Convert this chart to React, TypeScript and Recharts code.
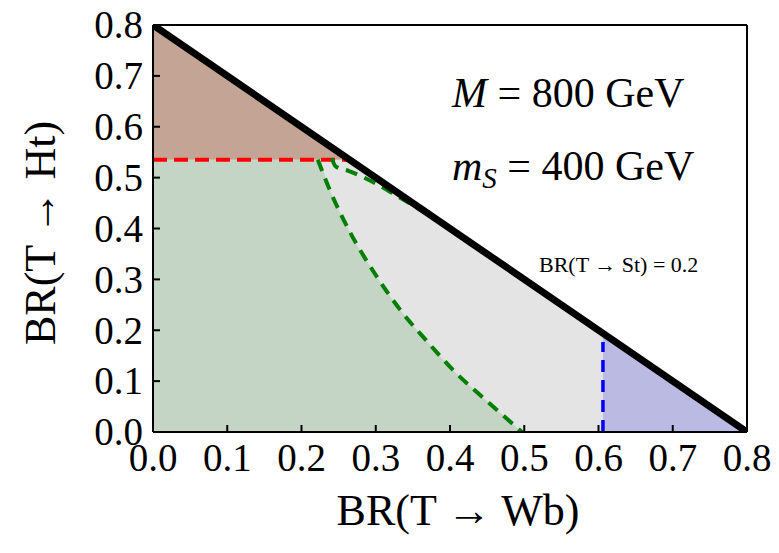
import { ComposedChart, Area, Line, XAxis, YAxis, ReferenceLine } from 'recharts'

// axis ticks
const xTicks = [0, 0.1, 0.2, 0.3, 0.4, 0.5, 0.6, 0.7, 0.8]
const yTicks = [0, 0.1, 0.2, 0.3, 0.4, 0.5, 0.6, 0.7, 0.8]

// kinematic boundary BR(Wb) + BR(Ht) = 0.8
const diagonal = [
    { x: 0, y: 0.8 },
    { x: 0.8, y: 0 },
]

// red dashed cut on BR(Ht)
const redCut = [
    { x: 0, y: 0.535 },
    { x: 0.265, y: 0.535 },
]

// green dashed exclusion curves
const greenCurve = [
    { x: 0.222, y: 0.535 },
    { x: 0.238, y: 0.476 },
    { x: 0.266, y: 0.391 },
    { x: 0.298, y: 0.313 },
    { x: 0.333, y: 0.24 },
    { x: 0.368, y: 0.18 },
    { x: 0.404, y: 0.122 },
    { x: 0.448, y: 0.063 },
    { x: 0.497, y: 0 },
]
const greenUpper = [
    { x: 0.241, y: 0.538 },
    { x: 0.246, y: 0.522 },
    { x: 0.264, y: 0.513 },
    { x: 0.298, y: 0.49 },
    { x: 0.33, y: 0.463 },
    { x: 0.37, y: 0.428 },
]

// blue dashed cut on BR(Wb)
const blueCutX = 0.606
const blueCutTop = 0.177

// filled regions as [low, high] bands
const grayBand = [
    { x: 0, range: [0, 0.535] },
    { x: 0.265, range: [0, 0.535] },
    { x: 0.606, range: [0, 0.194] },
]
const greenBand = [
    { x: 0, range: [0, 0.535] },
    { x: 0.222, range: [0, 0.535] },
    { x: 0.238, range: [0, 0.476] },
    { x: 0.266, range: [0, 0.391] },
    { x: 0.298, range: [0, 0.313] },
    { x: 0.333, range: [0, 0.24] },
    { x: 0.368, range: [0, 0.18] },
    { x: 0.404, range: [0, 0.122] },
    { x: 0.448, range: [0, 0.063] },
    { x: 0.497, range: [0, 0] },
]
const brownBand = [
    { x: 0, range: [0.535, 0.8] },
    { x: 0.265, range: [0.535, 0.535] },
]
const blueBand = [
    { x: 0.606, range: [0, 0.194] },
    { x: 0.8, range: [0, 0] },
]

const serif = "'Liberation Serif', 'DejaVu Serif', 'Times New Roman', serif"

// serif tick labels
const BottomTick = (props: any) => {
    const { x, y, payload } = props
    return (
        <text x={x} y={y} dy='0.71em' textAnchor='middle' style={{ fontFamily: serif }} fontSize={39} fill='#000'>
            {Number(payload.value).toFixed(1)}
        </text>
    )
}
const LeftTick = (props: any) => {
    const { x, y, payload } = props
    return (
        <text x={x} y={y} dy='0.34em' textAnchor='end' style={{ fontFamily: serif }} fontSize={39} fill='#000'>
            {Number(payload.value).toFixed(1)}
        </text>
    )
}

const App = () => {
    return (
        <div style={{ width: 771, height: 545 }}>
            <ComposedChart
                width={771}
                height={545}
                margin={{ top: 12, right: 22, bottom: 61, left: 65 }}
            >
                <XAxis
                    xAxisId='b'
                    type='number'
                    dataKey='x'
                    domain={[0, 0.8]}
                    allowDataOverflow
                    ticks={xTicks}
                    interval={0}
                    height={60}
                    tickSize={-7}
                    tickMargin={18}
                    tick={<BottomTick />}
                    stroke='#000'
                    strokeWidth={2}
                />
                <XAxis
                    xAxisId='t'
                    orientation='top'
                    type='number'
                    domain={[0, 0.8]}
                    allowDataOverflow
                    ticks={xTicks}
                    interval={0}
                    height={5}
                    tickSize={-7}
                    tick={false}
                    stroke='#000'
                    strokeWidth={2}
                />
                <YAxis
                    yAxisId='l'
                    type='number'
                    domain={[0, 0.8]}
                    allowDataOverflow
                    ticks={yTicks}
                    interval={0}
                    width={80}
                    tickSize={-7}
                    tickMargin={17}
                    tick={<LeftTick />}
                    stroke='#000'
                    strokeWidth={2}
                />
                <YAxis
                    yAxisId='r'
                    orientation='right'
                    type='number'
                    domain={[0, 0.8]}
                    allowDataOverflow
                    ticks={yTicks}
                    interval={0}
                    width={10}
                    tickSize={-7}
                    tick={false}
                    stroke='#000'
                    strokeWidth={2}
                />

                <Area data={grayBand} xAxisId='b' yAxisId='l' dataKey='range' type='linear'
                    fill='#e4e4e4' fillOpacity={1} stroke='none' isAnimationActive={false} />
                <Area data={greenBand} xAxisId='b' yAxisId='l' dataKey='range' type='monotone'
                    fill='#c5d5c5' fillOpacity={1} stroke='none' isAnimationActive={false} />
                <Area data={brownBand} xAxisId='b' yAxisId='l' dataKey='range' type='linear'
                    fill='#c4a494' fillOpacity={1} stroke='none' isAnimationActive={false} />
                <Area data={blueBand} xAxisId='b' yAxisId='l' dataKey='range' type='linear'
                    fill='#babae2' fillOpacity={1} stroke='none' isAnimationActive={false} />

                <Line data={redCut} xAxisId='b' yAxisId='l' dataKey='y' type='linear'
                    stroke='#ff0000' strokeWidth={4} strokeDasharray='14 7' dot={false} isAnimationActive={false} />
                <Line data={greenCurve} xAxisId='b' yAxisId='l' dataKey='y' type='monotone'
                    stroke='#008000' strokeWidth={4} strokeDasharray='12 8' dot={false} isAnimationActive={false} />
                <Line data={greenUpper} xAxisId='b' yAxisId='l' dataKey='y' type='monotone'
                    stroke='#008000' strokeWidth={4} strokeDasharray='12 8' dot={false} isAnimationActive={false} />
                <ReferenceLine xAxisId='b' yAxisId='l'
                    segment={[{ x: blueCutX, y: 0 }, { x: blueCutX, y: blueCutTop }]}
                    stroke='#0000ff' strokeWidth={3.5} strokeDasharray='12 8' />
                <Line data={diagonal} xAxisId='b' yAxisId='l' dataKey='y' type='linear'
                    stroke='#000' strokeWidth={7} dot={false} isAnimationActive={false} />

                <text x={444} y={99} fontFamily={serif} fontSize={42}>
                    <tspan fontStyle='italic'>M</tspan> = 800 GeV
                </text>
                <text x={444} y={172} fontFamily={serif} fontSize={42}>
                    <tspan fontStyle='italic'>m</tspan>
                    <tspan fontStyle='italic' fontSize={29} dy={8}>S</tspan>
                    <tspan dy={-8}> = 400 GeV</tspan>
                </text>
                <text x={531} y={264} fontFamily={serif} fontSize={22}>
                    BR(T → St) = 0.2
                </text>
                <text x={450} y={517} fontFamily={serif} fontSize={44} textAnchor='middle'>
                    BR(T → Wb)
                </text>
                <text x={32} y={225} fontFamily={serif} fontSize={44} textAnchor='middle' dominantBaseline='central'
                    transform='rotate(-90 32 225)'>
                    BR(T → Ht)
                </text>
            </ComposedChart>
        </div>
    )
}

export default App
